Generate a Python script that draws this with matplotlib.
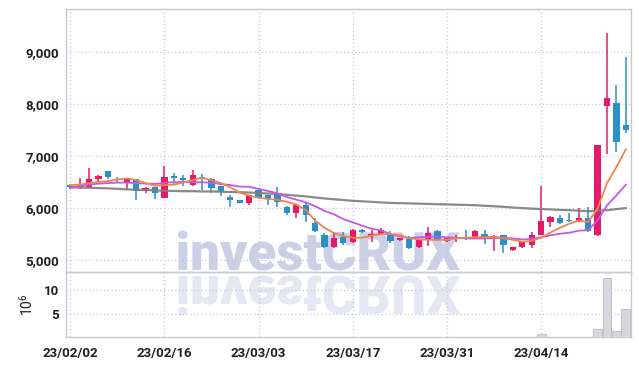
import matplotlib
matplotlib.use("Agg")
import matplotlib.pyplot as plt
import numpy as np
from matplotlib.textpath import TextPath
from matplotlib.patches import PathPatch
from matplotlib.font_manager import FontProperties
from matplotlib.transforms import Affine2D

# daily OHLC
opens = [6440, 6410, 6400, 6550, 6710, 6500, 6480, 6550, 6330, 6400,
         6200, 6610, 6560, 6440, 6600, 6560, 6420, 6220, 6150, 6090,
         6340, 6250, 6250, 6030, 5900, 6060, 5710, 5490, 5250, 5450,
         5340, 5580, 5470, 5500, 5510, 5380, 5400, 5250, 5380, 5560,
         5360, 5400, 5420, 5450, 5510, 5420, 5480, 5200, 5250, 5290,
         5490, 5740, 5800, 5770, 5740, 5800, 5490, 7960, 8030, 7600]
highs = [6470, 6580, 6770, 6630, 6710, 6590, 6570, 6560, 6400, 6410,
         6800, 6680, 6630, 6740, 6650, 6570, 6430, 6250, 6160, 6260,
         6380, 6260, 6410, 6040, 6070, 6110, 5810, 5520, 5530, 5540,
         5590, 5600, 5580, 5610, 5560, 5430, 5470, 5390, 5640, 5570,
         5430, 5490, 5580, 5570, 5580, 5480, 5490, 5260, 5350, 5540,
         6420, 5850, 5860, 5900, 6010, 6030, 7220, 9360, 8370, 8910]
lows = [6370, 6370, 6400, 6510, 6560, 6480, 6360, 6150, 6290, 6170,
        6190, 6460, 6420, 6430, 6350, 6290, 6230, 6030, 6090, 6060,
        6180, 6060, 6030, 5870, 5800, 5740, 5540, 5240, 5240, 5290,
        5330, 5520, 5350, 5490, 5320, 5370, 5220, 5240, 5280, 5370,
        5350, 5350, 5390, 5440, 5300, 5170, 5130, 5170, 5240, 5240,
        5480, 5630, 5700, 5740, 5730, 5540, 5470, 7050, 7080, 7440]
closes = [6400, 6420, 6560, 6620, 6600, 6480, 6560, 6330, 6390, 6290,
          6600, 6580, 6545, 6630, 6560, 6380, 6300, 6150, 6100, 6250,
          6190, 6175, 6110, 5900, 6060, 5870, 5550, 5250, 5430, 5330,
          5580, 5540, 5510, 5580, 5370, 5420, 5230, 5380, 5530, 5390,
          5420, 5440, 5400, 5560, 5400, 5470, 5290, 5250, 5340, 5480,
          5750, 5820, 5710, 5745, 5800, 5550, 7210, 8110, 7280, 7510]

# moving-average lines as drawn
ma5 = [6440, 6450, 6480, 6500, 6520, 6550, 6570, 6540, 6480, 6430,
       6440, 6450, 6490, 6540, 6580, 6540, 6480, 6400, 6300, 6240,
       6200, 6175, 6160, 6120, 6070, 5960, 5760, 5620, 5520, 5460,
       5430, 5430, 5470, 5500, 5500, 5480, 5420, 5400, 5390, 5390,
       5390, 5420, 5430, 5440, 5440, 5450, 5420, 5390, 5350, 5370,
       5430, 5530, 5620, 5700, 5760, 5730, 5990, 6480, 6790, 7130]
ma10 = [6390, 6420, 6450, 6470, 6480, 6490, 6490, 6480, 6470, 6465,
        6485, 6500, 6500, 6500, 6497, 6487, 6461, 6443, 6414, 6410,
        6369, 6328, 6285, 6212, 6162, 6111, 6036, 5946, 5879, 5787,
        5726, 5662, 5602, 5570, 5501, 5456, 5424, 5437, 5447, 5453,
        5437, 5427, 5416, 5414, 5417, 5422, 5428, 5415, 5396, 5405,
        5438, 5476, 5507, 5526, 5566, 5574, 5766, 6052, 6246, 6449]
ma_long = [6400, 6395, 6390, 6385, 6380, 6370, 6360, 6355, 6350, 6340,
           6330, 6330, 6325, 6325, 6320, 6320, 6315, 6310, 6305, 6300,
           6290, 6280, 6270, 6255, 6240, 6225, 6205, 6185, 6170, 6155,
           6140, 6130, 6120, 6110, 6100, 6095, 6090, 6085, 6080, 6075,
           6070, 6065, 6060, 6055, 6045, 6035, 6025, 6010, 6000, 5990,
           5980, 5975, 5965, 5960, 5950, 5940, 5945, 5960, 5980, 6000]

# volume in millions (only the last days are visible)
volume = [0.1] * 50 + [0.8, 0.1, 0.1, 0.1, 0.1, 0.1, 1.85, 12.5, 1.5, 6.1]

date_pos = [0, 10, 20, 30, 40, 50]
date_labels = ["23/02/02", "23/02/16", "23/03/03", "23/03/17", "23/03/31", "23/04/14"]
price_ticks = [5000, 6000, 7000, 8000, 9000]
vol_ticks = [5, 10]

plt.rcParams['font.family'] = ['Roboto', 'DejaVu Sans']

UP = '#e6196a'
DOWN = '#2b90c6'
GRID = '#c3c7df'
SPINE = '#c9c9d3'
TXT = '#1e1e24'

fig = plt.figure(figsize=(6.39, 3.66), dpi=100)
ax = fig.add_axes([0.1033, 0.2568, 0.8842, 0.7186])
axv = fig.add_axes([0.1033, 0.0792, 0.8842, 0.1776], sharex=ax)

# watermark with reflection
fp = FontProperties(family='Roboto', weight='black')
tp = TextPath((0, 0), "investCRUX", size=50, prop=fp)
bb = tp.get_extents()
s = 282 / bb.width
tr = Affine2D().translate(-bb.x0, 0).scale(s, s).translate(178, 366 - 270)
fig.add_artist(PathPatch(tp, transform=tr, fc='#cbd0e6', ec='none', zorder=-1))
tr2 = Affine2D().translate(-bb.x0, 0).scale(s, -s).translate(178, 366 - 276)
fig.add_artist(PathPatch(tp, transform=tr2, fc='#e5e7f2', ec='none', zorder=-1))

x = np.arange(len(closes))
o = np.array(opens)
c = np.array(closes)
cols = np.where(c >= o, UP, DOWN)
ax.vlines(x, lows, highs, colors=cols, lw=1.1, zorder=3)
ax.bar(x, np.maximum(np.abs(c - o), 30), bottom=np.minimum(o, c),
       width=0.66, color=cols, zorder=4)

ax.plot(x, ma_long, color='#7d7d7d', lw=1.6, alpha=0.9, zorder=5)
ax.plot(x, ma10, color='#c658e8', lw=1.3, zorder=6)
ax.plot(x, ma5, color='#f0844c', lw=1.3, zorder=7)

axv.bar(x, volume, width=0.95, color='#d7d7de', edgecolor='#b9b9c2', lw=0.6, zorder=3)

for a in (ax, axv):
    a.set_facecolor('none')
    a.grid(True, color=GRID, ls=(0, (1, 2)), lw=0.9)
    a.set_axisbelow(True)
    a.tick_params(length=0, labelsize=9.5, labelcolor=TXT, pad=5)
    for sp in a.spines.values():
        sp.set_color(SPINE)
        sp.set_linewidth(1.0)

ax.set_xlim(-0.45, 59.55)
ax.set_ylim(4770, 9830)
ax.set_yticks(price_ticks)
ax.set_yticklabels([f"{v:,}" for v in price_ticks], fontweight='bold')
ax.tick_params(axis='x', labelbottom=False)

axv.set_ylim(0.2, 13.7)
axv.set_yticks(vol_ticks)
axv.set_yticklabels([str(v) for v in vol_ticks], fontweight='bold')
axv.set_xticks(date_pos)
axv.set_xticklabels(date_labels, fontweight='bold')
axv.tick_params(axis='x', pad=7)
axv.set_ylabel(r'$\mathregular{10^6}$', fontsize=10, color=TXT, labelpad=6)

fig.savefig('out.png', dpi=100)
